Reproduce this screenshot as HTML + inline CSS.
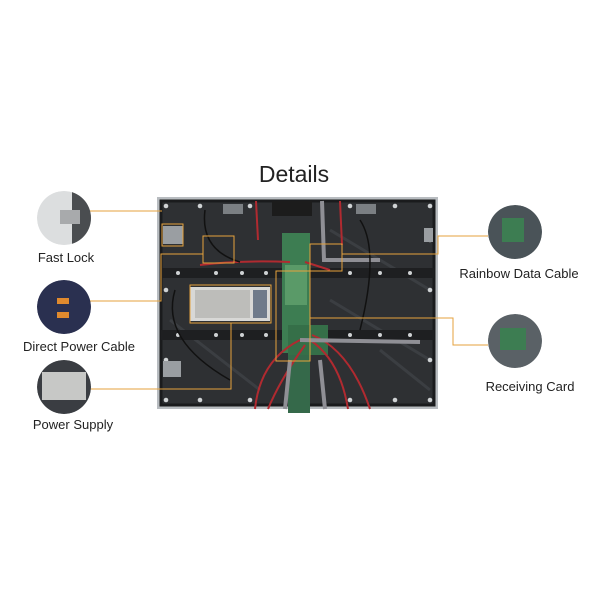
<!DOCTYPE html>
<html><head><style>
body{margin:0;background:#fff;}
svg{display:block;}
text{font-family:"Liberation Sans",sans-serif;fill:#222;}
</style></head><body>
<svg width="600" height="600" viewBox="0 0 600 600">
<defs>
<clipPath id="c1"><circle cx="64" cy="218" r="27"/></clipPath>
<clipPath id="c2"><circle cx="64" cy="307" r="27"/></clipPath>
<clipPath id="c3"><circle cx="64" cy="387" r="27"/></clipPath>
<clipPath id="c4"><circle cx="515" cy="232" r="27"/></clipPath>
<clipPath id="c5"><circle cx="515" cy="341" r="27"/></clipPath>
</defs>
<rect width="600" height="600" fill="#fff"/>
<text x="294" y="182" font-size="23" text-anchor="middle" fill="#111">Details</text>

<rect x="157" y="197" width="281" height="212" fill="#b8bcc0"/>
<rect x="161" y="201" width="273" height="204" fill="#2e3033"/>
<rect x="161" y="201" width="273" height="204" fill="none" stroke="#1a1b1d" stroke-width="3"/>
<g stroke="#3b3e42" stroke-width="3">
<line x1="330" y1="230" x2="430" y2="290"/><line x1="330" y1="300" x2="430" y2="360"/>
<line x1="170" y1="320" x2="260" y2="390"/><line x1="380" y1="350" x2="430" y2="390"/>
</g>
<rect x="161" y="268" width="273" height="10" fill="#1e1f21"/>
<rect x="161" y="330" width="273" height="10" fill="#1e1f21"/>
<g fill="#cfd2d4">
<circle cx="166" cy="206" r="2.3"/><circle cx="430" cy="206" r="2.3"/><circle cx="166" cy="400" r="2.3"/><circle cx="430" cy="400" r="2.3"/>
<circle cx="166" cy="240" r="2.3"/><circle cx="166" cy="290" r="2.3"/><circle cx="166" cy="360" r="2.3"/>
<circle cx="430" cy="240" r="2.3"/><circle cx="430" cy="290" r="2.3"/><circle cx="430" cy="360" r="2.3"/>
<circle cx="200" cy="206" r="2.3"/><circle cx="250" cy="206" r="2.3"/><circle cx="350" cy="206" r="2.3"/><circle cx="395" cy="206" r="2.3"/>
<circle cx="200" cy="400" r="2.3"/><circle cx="250" cy="400" r="2.3"/><circle cx="350" cy="400" r="2.3"/><circle cx="395" cy="400" r="2.3"/>
<circle cx="178" cy="273" r="2"/><circle cx="216" cy="273" r="2"/><circle cx="242" cy="273" r="2"/><circle cx="266" cy="273" r="2"/><circle cx="350" cy="273" r="2"/><circle cx="380" cy="273" r="2"/><circle cx="410" cy="273" r="2"/>
<circle cx="178" cy="335" r="2"/><circle cx="216" cy="335" r="2"/><circle cx="242" cy="335" r="2"/><circle cx="266" cy="335" r="2"/><circle cx="350" cy="335" r="2"/><circle cx="380" cy="335" r="2"/><circle cx="410" cy="335" r="2"/>
</g>
<rect x="163" y="226" width="20" height="18" fill="#9a9ea2"/>
<rect x="163" y="361" width="18" height="16" fill="#9a9ea2"/>
<rect x="424" y="228" width="9" height="14" fill="#9a9ea2"/>
<rect x="223" y="204" width="20" height="10" fill="#7b7f83"/>
<rect x="356" y="204" width="20" height="10" fill="#7b7f83"/>
<rect x="272" y="201" width="40" height="15" fill="#1c1c1c"/>
<rect x="190" y="287" width="80" height="34" fill="#d8d8d6"/>
<rect x="195" y="290" width="55" height="28" fill="#bdbdba"/>
<rect x="253" y="290" width="14" height="28" fill="#6f7a8a"/>
<rect x="282" y="233" width="28" height="120" fill="#3d7d52"/>
<rect x="288" y="353" width="22" height="60" fill="#35694a"/>
<rect x="285" y="265" width="22" height="40" fill="#5a9a68"/>
<rect x="288" y="325" width="40" height="30" fill="#356f48"/>
<g stroke="#b02a30" stroke-width="2" fill="none">
<path d="M256 201 L258 240"/><path d="M340 201 L342 245"/>
<path d="M300 340 Q260 360 255 409"/><path d="M305 345 Q280 380 268 409"/>
<path d="M310 340 Q340 360 348 409"/><path d="M312 335 Q350 350 370 409"/>
<path d="M200 265 Q240 260 290 262"/><path d="M305 262 L330 270"/>
</g>
<g stroke="#8f8f95" stroke-width="4" fill="none">
<path d="M322 201 L324 260 L380 260"/><path d="M300 340 L420 342"/>
<path d="M290 360 L285 409"/><path d="M320 360 L325 409"/>
</g>
<g stroke="#111" stroke-width="1.5" fill="none">
<path d="M205 210 Q200 250 240 262"/><path d="M175 290 Q160 340 230 380"/><path d="M360 220 Q380 250 360 330"/>
</g>
<g stroke="#e5a23c" stroke-width="1" fill="none">
<rect x="162" y="224" width="21" height="22"/>
<rect x="203" y="236" width="31" height="27"/>
<rect x="310" y="244" width="32" height="27"/>
<rect x="276" y="271" width="34" height="90"/>
<rect x="190" y="285" width="81" height="38"/>
<path d="M90 211 L162 211"/>
<path d="M88 301 L161 301 L161 254 L203 254"/>
<path d="M89 389 L231 389 L231 323"/>
<path d="M342 254 L438 254 L438 236 L488 236"/>
<path d="M310 318 L453 318 L453 345 L488 345"/>
</g>
<g clip-path="url(#c1)"><circle cx="64" cy="218" r="27" fill="#dcdedf"/><rect x="72" y="190" width="22" height="56" fill="#4a4d50"/><rect x="60" y="210" width="20" height="14" fill="#a8aaac"/></g>
<g clip-path="url(#c2)"><circle cx="64" cy="307" r="27" fill="#2a3050"/><rect x="57" y="298" width="12" height="6" fill="#e08a2e"/><rect x="57" y="312" width="12" height="6" fill="#e08a2e"/></g>
<g clip-path="url(#c3)"><circle cx="64" cy="387" r="27" fill="#3a3d42"/><rect x="42" y="372" width="44" height="28" fill="#c7c8c6"/></g>
<text x="66" y="262" font-size="13" text-anchor="middle">Fast Lock</text>
<text x="79" y="351" font-size="13" text-anchor="middle">Direct Power Cable</text>
<text x="73" y="429" font-size="13" text-anchor="middle">Power Supply</text>
<g clip-path="url(#c4)"><circle cx="515" cy="232" r="27" fill="#4a5358"/><rect x="502" y="218" width="22" height="24" fill="#3d7d52"/></g>
<g clip-path="url(#c5)"><circle cx="515" cy="341" r="27" fill="#5a6166"/><rect x="500" y="328" width="26" height="22" fill="#3d7d52"/></g>
<text x="519" y="278" font-size="13" text-anchor="middle">Rainbow Data Cable</text>
<text x="530" y="391" font-size="13" text-anchor="middle">Receiving Card</text>
</svg>
</body></html>
